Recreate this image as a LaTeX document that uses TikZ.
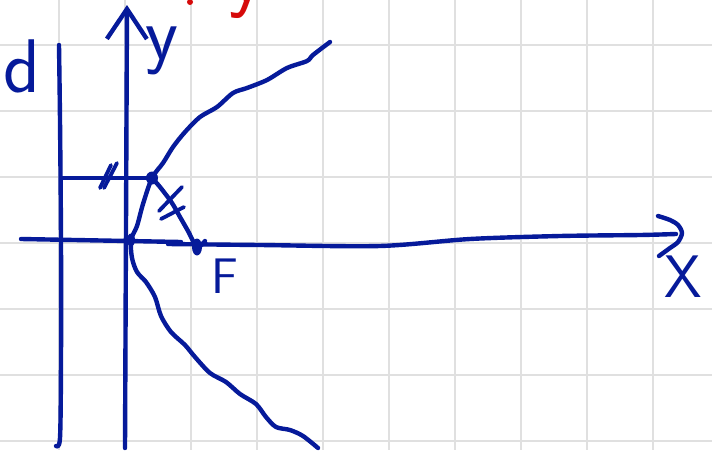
\documentclass[tikz,border=0pt]{standalone}
\usepackage{fontspec}
\usepackage{xcolor}
\usetikzlibrary{arrows.meta,positioning,shapes.geometric}
\definecolor{ink}{RGB}{6,26,154}
\definecolor{redink}{RGB}{214,10,10}
\definecolor{gridgray}{RGB}{224,224,224}

\begin{document}
\begin{tikzpicture}[
    x=1pt, y=-1pt,
    pen/.style={draw=ink, line width=4.4pt, line cap=round, line join=round},
    hand/.style={text=ink, inner sep=0pt, font=\sffamily\fontsize{#1}{#1}\selectfont},
    hand/.default=44,
    tickmark/.style={pen, line width=3.8pt},
    pin/.style={fill=ink, ellipse, inner sep=0pt},
    gridline/.style={draw=gridgray, line width=1.8pt},
    yhead/.style={-{Straight Barb[length=30pt, width=40pt]}},
]
    \useasboundingbox (0,0) rectangle (712,450);
    \fill[white] (0,0) rectangle (712,450);
    \foreach \gx in {59,125,...,719} \draw[gridline] (\gx,0) -- (\gx,450);
    \foreach \gy in {45,111,...,441} \draw[gridline] (0,\gy) -- (712,\gy);

    \coordinate (dtop) at (59,45);
    \coordinate (dfoot) at (62,178);
    \coordinate (dbottom) at (56,446);
    \coordinate (yfoot) at (125,448);
    \coordinate (ytip) at (127,5);
    \coordinate (xstart) at (21,239);
    \coordinate (xend) at (181,242);
    \coordinate (xrestart) at (168,244);
    \coordinate (xtip) at (676,234);
    \coordinate (xheadtop) at (658,216);
    \coordinate (xheadbottom) at (659,256);
    \coordinate (Xp) at (152,178);
    \coordinate (F) at (197,247);
    \coordinate (O) at (131,240);

    \draw[pen] plot[smooth] coordinates {(dtop) (60,120) (61,240) (61,360) (60,438) (dbottom)};
    \draw[pen, yhead] (yfoot) -- (ytip);
    \draw[pen] (xstart) -- (xend);
    \draw[pen] plot[smooth] coordinates {(xrestart) (260,245) (380,246) (470,239) (560,236) (640,235) (xtip)};
    \draw[pen] plot[smooth] coordinates {(xheadtop) (670,220) (678,225) (682,233) (678,242) (670,248) (xheadbottom)};

    \draw[pen] plot[smooth] coordinates {(330,42) (313,55) (307,61) (287,68) (267,80) (247,88)
        (233,93) (217,107) (200,117) (185,132) (173,147) (163,163) (Xp) (143,204) (137,226)
        (O) (132,258) (137,272) (146,282) (155,297) (161,316) (171,332) (185,345) (195,357)
        (210,373) (226,382) (240,394) (256,404) (266,417) (276,427) (290,430) (303,436) (318,448)};

    \draw[pen] (dfoot) -- (Xp);
    \draw[pen] plot[smooth] coordinates {(Xp) (160,187) (172,203) (180,217) (188,231) (F) (205,241)};

    \draw[tickmark] (117,163) -- (104,188);
    \draw[tickmark] (111,165) -- (100,188);
    \draw[tickmark] (182,187) -- (159,211);
    \draw[tickmark] (184,207) -- (161,219);

    \node[pin, minimum width=12pt, minimum height=13pt] (Xdot) at (Xp) {};
    \node[pin, minimum width=10pt, minimum height=17pt] (Fdot) at (F) {};
    \node[pin, minimum width=8pt, minimum height=13pt] (Odot) at (O) {};

    \node[hand=76] (dlabel) at (22,66) {d};
    \node[hand=76, below right=22pt and 18pt of ytip] (ylabel) {y};
    \node[hand=50, below right=12pt and 14pt of F] (Flabel) {F};
    \node[hand=60, below right=22pt and -12pt of xtip] (xlabel) {X};

    \node[text=redink, inner sep=0pt, anchor=base, font=\sffamily\fontsize{84}{84}\selectfont] (redtext) at (247,1) {y};
    \node[circle, fill=redink, inner sep=0pt, minimum size=6pt] (reddot) at (190,2) {};
\end{tikzpicture}
\end{document}
